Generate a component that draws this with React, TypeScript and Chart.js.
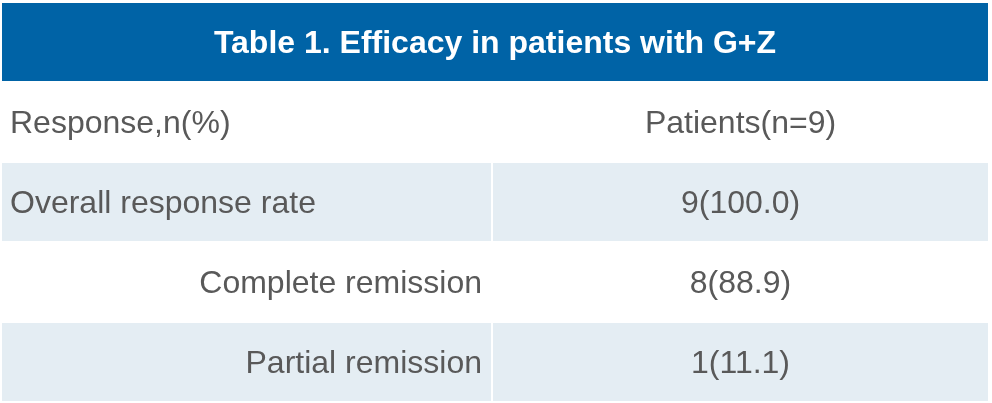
import React, { useEffect, useRef } from "react";
import { Chart, registerables } from "chart.js";

Chart.register(...registerables);

// ---- Table content ----
const tableTitle = "Table 1. Efficacy in patients with G+Z";
const headerLabel = "Response,n(%)";
const headerValue = "Patients(n=9)";
const responseLabels = ["Overall response rate", "Complete remission", "Partial remission"];
const responseCounts = [9, 8, 1];
const responsePercents = [100.0, 88.9, 11.1];
const labelAlign = ["left", "right", "right"];

// ---- Row keys (category axis) ----
const rowKeys = ["title", "header", "r1", "r2", "r3"];

// ---- Column split (percent of table width) ----
const columnSplit = 49.7;

const BLUE = "#0063A6";
const LIGHT = "#E4EDF3";
const WHITE = "#FFFFFF";
const TEXT = "#595959";
const FONT = '"Liberation Sans", Arial, sans-serif';

export default function App() {
  const ref = useRef<HTMLCanvasElement | null>(null);

  useEffect(() => {
    document.body.style.margin = "0";
    const canvas = ref.current;
    if (!canvas) return;

    const valueTexts = [headerValue].concat(
      responseCounts.map((c, i) => `${c}(${responsePercents[i].toFixed(1)})`)
    );
    const labelTexts = [headerLabel].concat(responseLabels);
    const labelAligns = ["left"].concat(labelAlign);

    const rowFill = (i: number) => (i % 2 === 0 ? LIGHT : WHITE); // i = body row index incl header

    const titleData = rowKeys.map((k) => (k === "title" ? [0, 100] : null));
    const col1Data = rowKeys.map((k) => (k === "title" ? null : [0, columnSplit]));
    const col2Data = rowKeys.map((k) => (k === "title" ? null : [columnSplit, 100]));
    const bodyColors = rowKeys.map((k, i) => (k === "title" ? BLUE : rowFill(i)));

    const common = {
      barPercentage: 1,
      categoryPercentage: 1,
      borderWidth: 1,
      borderColor: WHITE,
      borderSkipped: false,
      grouped: false,
      inflateAmount: 0,
    };

    const textPlugin = {
      id: "tableText",
      afterDatasetsDraw(chart: any) {
        const ctx = chart.ctx;
        ctx.save();
        ctx.textBaseline = "alphabetic";
        const capOffset = (size: number) => size * 0.716 / 2;

        // title
        const tMeta = chart.getDatasetMeta(0);
        const tEl = tMeta.data[0];
        if (tEl) {
          const p = tEl.getProps(["x", "y", "base"], true);
          const size = 32;
          ctx.font = `bold ${size}px ${FONT}`;
          ctx.fillStyle = WHITE;
          ctx.textAlign = "center";
          ctx.fillText(tableTitle, (p.x + p.base) / 2, p.y + capOffset(size));
        }

        const m1 = chart.getDatasetMeta(1);
        const m2 = chart.getDatasetMeta(2);
        const size = 32;
        ctx.font = `${size}px ${FONT}`;
        ctx.fillStyle = TEXT;
        for (let r = 1; r < rowKeys.length; r++) {
          const e1 = m1.data[r];
          const e2 = m2.data[r];
          const i = r - 1;
          if (e1) {
            const p = e1.getProps(["x", "y", "base"], true);
            const left = Math.min(p.x, p.base);
            const right = Math.max(p.x, p.base);
            const y = p.y + capOffset(size);
            if (labelAligns[i] === "left") {
              ctx.textAlign = "left";
              ctx.fillText(labelTexts[i], left + 9, y);
            } else {
              ctx.textAlign = "right";
              ctx.fillText(labelTexts[i], right - 10, y);
            }
          }
          if (e2) {
            const p = e2.getProps(["x", "y", "base"], true);
            ctx.textAlign = "center";
            ctx.fillText(valueTexts[i], (p.x + p.base) / 2, p.y + capOffset(size));
          }
        }
        ctx.restore();
      },
    };

    const chart = new Chart(canvas, {
      type: "bar",
      data: {
        labels: rowKeys,
        datasets: [
          { label: "title", data: titleData as any, backgroundColor: BLUE, ...common },
          { label: "response", data: col1Data as any, backgroundColor: bodyColors, ...common },
          { label: "patients", data: col2Data as any, backgroundColor: bodyColors, ...common },
        ],
      },
      options: {
        indexAxis: "y",
        animation: false,
        responsive: true,
        maintainAspectRatio: false,
        devicePixelRatio: 1,
        layout: { padding: { left: 1, right: 3, top: 2, bottom: 1 } },
        scales: {
          x: { type: "linear", min: 0, max: 100, display: false },
          y: { type: "category", display: false, offset: true },
        },
        plugins: {
          legend: { display: false },
          tooltip: { enabled: false },
          title: { display: false },
        },
      } as any,
      plugins: [textPlugin],
    });

    return () => chart.destroy();
  }, []);

  return (
    <div style={{ position: "absolute", left: 0, top: 0, width: 992, height: 403, background: "#fff" }}>
      <canvas ref={ref} />
    </div>
  );
}
